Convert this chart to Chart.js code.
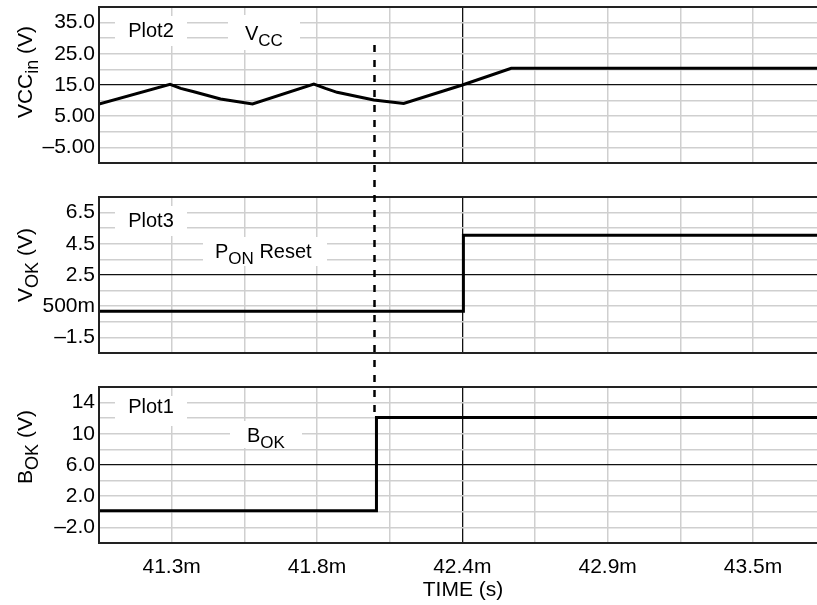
<!DOCTYPE html>
<html>
<head>
<meta charset="utf-8">
<script src="https://cdn.jsdelivr.net/npm/chart.js@4.4.0/dist/chart.umd.min.js"></script>
<style>
  html, body { margin: 0; padding: 0; background: #fff; overflow: hidden; }
  #wrap { position: relative; width: 817px; height: 605px; overflow: hidden; }
  .panel { position: absolute; left: 0; }
</style>
</head>
<body>
<div id="wrap">
  <canvas id="c1" class="panel" width="828" height="180" style="top:0"></canvas>
  <canvas id="c2" class="panel" width="828" height="190" style="top:180px"></canvas>
  <canvas id="c3" class="panel" width="828" height="235" style="top:370px"></canvas>
</div>
<script>
// shared time axis (ms shown with "m" suffix)
const timeRange = [41.025, 43.78];
const timeGrid = [41.025, 41.3, 41.575, 41.85, 42.125, 42.4, 42.675, 42.95, 43.225, 43.5, 43.775];
const timeTicks = [41.3, 41.85, 42.4, 42.95, 43.5];
const timeTickLabels = ["41.3m", "41.8m", "42.4m", "42.9m", "43.5m"];
const markerTime = 42.067;

// Plot2: VCC
const vccTime = [41.025, 41.294, 41.334, 41.384, 41.485, 41.606, 41.838, 41.882, 41.926, 42.065, 42.178, 42.4, 42.585, 43.78];
const vccValues = [8.9, 15.2, 13.9, 12.85, 10.5, 8.9, 15.3, 13.9, 12.65, 10.2, 9.1, 15.0, 20.35, 20.35];
const vccRange = [-10, 40, 5];
const vccTicks = [35, 25, 15, 5, -5];
const vccTickLabels = ["35.0", "25.0", "15.0", "5.00", "\u20135.00"];

// Plot3: PON reset (VOK)
const vokTime = [41.025, 42.404, 42.404, 43.78];
const vokValues = [0.18, 0.18, 5.05, 5.05];
const vokRange = [-2.5, 7.5, 1];
const vokTicks = [6.5, 4.5, 2.5, 0.5, -1.5];
const vokTickLabels = ["6.5", "4.5", "2.5", "500m", "\u20131.5"];

// Plot1: BOK
const bokTime = [41.025, 42.075, 42.075, 43.78];
const bokValues = [0.15, 0.15, 12.1, 12.1];
const bokRange = [-4, 16, 2];
const bokTicks = [14, 10, 6, 2, -2];
const bokTickLabels = ["14", "10", "6.0", "2.0", "\u20132.0"];

const FONT = '"Liberation Sans", Arial, Helvetica, sans-serif';
const near = (a, b) => Math.abs(a - b) < 1e-6;

function richWidth(ctx, parts, size) {
  let w = 0;
  for (const p of parts) {
    ctx.font = (p.sub ? Math.round(size * 0.85) : size) + "px " + FONT;
    w += ctx.measureText(p.t).width;
  }
  return w;
}
function drawRich(ctx, parts, x, y, size) {
  for (const p of parts) {
    ctx.font = (p.sub ? Math.round(size * 0.85) : size) + "px " + FONT;
    ctx.fillText(p.t, x, p.sub ? y + 6 : y);
    x += ctx.measureText(p.t).width;
  }
}

const panelPlugin = {
  id: "panel",
  beforeDatasetsDraw(chart, args, o) {
    const { ctx, chartArea: a } = chart;
    ctx.save();
    ctx.fillStyle = "#fff";
    for (const b of [o.plotBox, o.sigBox]) {
      ctx.fillRect(a.left + b[0], a.top + b[1], b[2] - b[0], b[3] - b[1]);
    }
    ctx.fillStyle = "#000";
    ctx.textAlign = "left";
    ctx.textBaseline = "alphabetic";
    const name = [{ t: o.plotName }];
    const w = richWidth(ctx, name, 20);
    drawRich(ctx, name, a.left + (o.plotBox[0] + o.plotBox[2]) / 2 - w / 2, a.top + o.plotBase, 20);
    drawRich(ctx, o.sigParts, a.left + o.sigAt[0], a.top + o.sigAt[1], 20);
    ctx.restore();
  },
  afterDatasetsDraw(chart, args, o) {
    const { ctx, chartArea: a, scales } = chart;
    ctx.save();
    ctx.strokeStyle = "#222";
    ctx.lineWidth = 2;
    ctx.strokeRect(a.left, a.top, a.right - a.left, a.bottom - a.top);

    // dashed marker running through all panels
    const x = Math.round(scales.x.getPixelForValue(markerTime)) + 0.5;
    const y0 = o.markFrom == null ? 0 : scales.y.getPixelForValue(o.markFrom);
    const y1 = o.markTo == null ? chart.height : scales.y.getPixelForValue(o.markTo);
    ctx.strokeStyle = "#000";
    ctx.lineWidth = 2.5;
    ctx.setLineDash([7, 8]);
    ctx.lineDashOffset = (o.panelTop + y0) % 15;
    ctx.beginPath();
    ctx.moveTo(x, y0);
    ctx.lineTo(x, y1);
    ctx.stroke();
    ctx.setLineDash([]);

    // y axis title with subscript
    ctx.fillStyle = "#000";
    ctx.translate(32, a.top + o.titleMid);
    ctx.rotate(-Math.PI / 2);
    const tw = richWidth(ctx, o.yTitle, 21);
    drawRich(ctx, o.yTitle, -tw / 2, 0, 21);
    ctx.restore();
  }
};

function makePanel(id, panelTop, times, values, range, ticks, tickLabels, panel, bottom) {
  const centre = ticks[2];
  return new Chart(document.getElementById(id), {
    type: "line",
    data: {
      datasets: [{
        data: times.map((t, i) => ({ x: t, y: values[i] })),
        borderColor: "#000",
        borderWidth: 3,
        pointRadius: 0,
        tension: 0,
        fill: false
      }]
    },
    options: {
      responsive: false,
      animation: false,
      events: [],
      layout: { padding: { top: panelTop === 0 ? 7 : 17, bottom: bottom ? 0 : 17, left: 0, right: 1 } },
      plugins: {
        legend: { display: false },
        tooltip: { enabled: false },
        panel: Object.assign({ panelTop }, panel)
      },
      scales: {
        x: {
          type: "linear",
          min: timeRange[0],
          max: timeRange[1],
          afterBuildTicks: s => { s.ticks = timeGrid.map(v => ({ value: v })); },
          afterFit: s => {
            if (bottom) s.height = 62;
            s.paddingLeft = 0; s.paddingRight = 0;
          },
          grid: {
            drawTicks: false,
            color: c => near(c.tick.value, 42.4) ? "#111" : "#cfcfcf",
            lineWidth: c => near(c.tick.value, 42.4) ? 1.3 : 1.5
          },
          border: { display: false },
          ticks: {
            display: bottom,
            autoSkip: false,
            maxRotation: 0,
            padding: 12,
            color: "#000",
            font: { family: FONT, size: 21 },
            callback: v => {
              const i = timeTicks.findIndex(t => near(t, v));
              return i >= 0 ? timeTickLabels[i] : "";
            }
          },
          title: {
            display: bottom,
            text: "TIME (s)",
            color: "#000",
            font: { family: FONT, size: 21 },
            padding: { top: 0, bottom: 2 }
          }
        },
        y: {
          type: "linear",
          min: range[0],
          max: range[1],
          afterFit: s => { s.width = 99; s.paddingTop = 0; s.paddingBottom = 0; },
          grid: {
            drawTicks: false,
            color: c => near(c.tick.value, centre) ? "#111" : "#cfcfcf",
            lineWidth: c => near(c.tick.value, centre) ? 1.3 : 1.5
          },
          border: { display: false },
          ticks: {
            stepSize: range[2],
            autoSkip: false,
            padding: 4,
            color: "#000",
            font: { family: FONT, size: 21 },
            callback: v => {
              const i = ticks.findIndex(t => near(t, v));
              return i >= 0 ? tickLabels[i] : "";
            }
          }
        }
      }
    },
    plugins: [panelPlugin]
  });
}

makePanel("c1", 0, vccTime, vccValues, vccRange, vccTicks, vccTickLabels, {
  plotName: "Plot2", plotBox: [16, 9, 88, 39], plotBase: 30,
  sigParts: [{ t: "V" }, { t: "CC", sub: true }],
  sigBox: [129, 8, 201, 43], sigAt: [146, 33],
  yTitle: [{ t: "VCC" }, { t: "in", sub: true }, { t: " (V)" }], titleMid: 65,
  markFrom: 28, markTo: null
}, false);

makePanel("c2", 180, vokTime, vokValues, vokRange, vokTicks, vokTickLabels, {
  plotName: "Plot3", plotBox: [16, 9, 88, 39], plotBase: 30,
  sigParts: [{ t: "P" }, { t: "ON", sub: true }, { t: " Reset" }],
  sigBox: [104, 40, 228, 69], sigAt: [116, 61],
  yTitle: [{ t: "V" }, { t: "OK", sub: true }, { t: " (V)" }], titleMid: 68,
  markFrom: null, markTo: null
}, false);

makePanel("c3", 370, bokTime, bokValues, bokRange, bokTicks, bokTickLabels, {
  plotName: "Plot1", plotBox: [16, 9, 88, 39], plotBase: 26,
  sigParts: [{ t: "B" }, { t: "OK", sub: true }],
  sigBox: [131, 34, 203, 61], sigAt: [148, 55],
  yTitle: [{ t: "B" }, { t: "OK", sub: true }, { t: " (V)" }], titleMid: 60,
  markFrom: null, markTo: 12.1
}, true);
</script>
</body>
</html>
